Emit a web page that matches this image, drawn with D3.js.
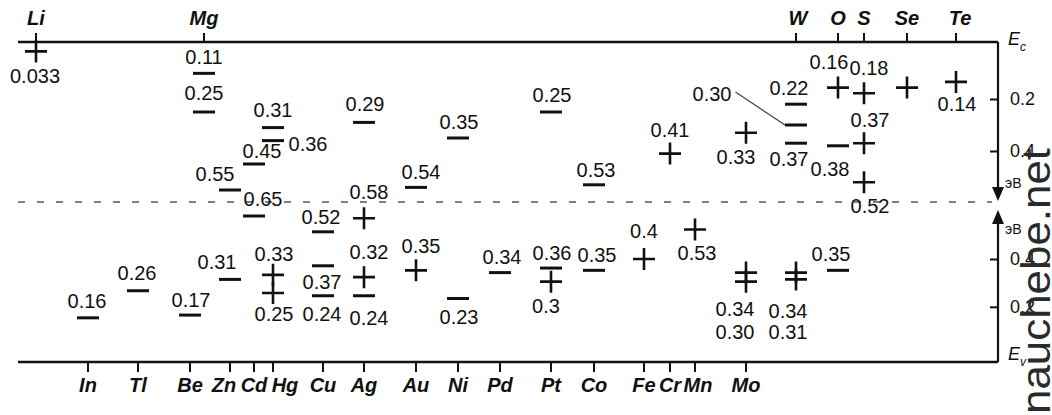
<!DOCTYPE html>
<html>
<head>
<meta charset="utf-8">
<script src="https://cdn.jsdelivr.net/npm/d3@7"></script>
<style>
  html, body { margin: 0; padding: 0; background: #fff; }
  svg { display: block; }
  text { font-family: "Liberation Sans", Arial, Helvetica, sans-serif; }
</style>
</head>
<body>
<svg id="chart" width="1052" height="415"></svg>
<script>
// ---- data -------------------------------------------------------------
// impurities named along the conduction-band edge (top) and valence-band edge (bottom)
const topElements = ["Li", "Mg", "W", "O", "S", "Se", "Te"];
const bottomElements = ["In", "Tl", "Be", "Zn", "Cd", "Hg", "Cu", "Ag", "Au", "Ni",
                        "Pd", "Pt", "Co", "Fe", "Cr", "Mn", "Mo"];

// levels counted down from Ec: [element, energy in eV as printed, "+" donor / "-" acceptor]
const levelsFromEc = [
  ["Li", "0.033", "+"],
  ["Mg", "0.11", "-"], ["Mg", "0.25", "-"],
  ["Zn", "0.55", "-"],
  ["Cd", "0.45", "-"], ["Cd", "0.65", "-"],
  ["Hg", "0.31", "-"], ["Hg", "0.36", "-"],
  ["Ag", "0.29", "-"],
  ["Au", "0.54", "-"],
  ["Ni", "0.35", "-"],
  ["Pt", "0.25", "-"],
  ["Co", "0.53", "-"],
  ["Cr", "0.41", "+"],
  ["Mo", "0.33", "+"],
  ["W", "0.22", "-"], ["W", "0.30", "-"], ["W", "0.37", "-"],
  ["O", "0.16", "+"], ["O", "0.38", "-"],
  ["S", "0.18", "+"], ["S", "0.37", "+"], ["S", "0.52", "+"],
  ["Te", "0.14", "+"]
];
// Se donor carries no printed value
const unlabelledFromEc = [["Se", 0.16, "+"]];

// levels counted up from Ev
const levelsFromEv = [
  ["In", "0.16", "-"],
  ["Tl", "0.26", "-"],
  ["Be", "0.17", "-"],
  ["Zn", "0.31", "-"],
  ["Hg", "0.33", "+"], ["Hg", "0.25", "+"],
  ["Cu", "0.52", "-"], ["Cu", "0.37", "-"], ["Cu", "0.24", "-"],
  ["Ag", "0.58", "+"], ["Ag", "0.32", "+"], ["Ag", "0.24", "-"],
  ["Au", "0.35", "+"],
  ["Ni", "0.23", "-"],
  ["Pd", "0.34", "-"],
  ["Pt", "0.36", "-"], ["Pt", "0.3", "+"],
  ["Co", "0.35", "-"],
  ["Fe", "0.4", "+"],
  ["Mn", "0.53", "+"],
  ["Mo", "0.34", "+"], ["Mo", "0.30", "+"],
  ["W", "0.34", "+"], ["W", "0.31", "+"],
  ["O", "0.35", "-"]
];

const energyTicks = [0.2, 0.4];

// ---- layout -----------------------------------------------------------
const plot = { left: 18, right: 998, ec: 42, ev: 362 };
const midY = (plot.ec + plot.ev) / 2;

const columnOrder = ["Li", "In", "Tl", "Be", "Mg", "Zn", "Cd", "Hg", "Cu", "Ag", "Au", "Ni",
                     "Pd", "Pt", "Co", "Fe", "Cr", "Mn", "Mo", "W", "O", "S", "Se", "Te"];
const columnX = [36, 88, 138, 190, 204, 230, 254, 273, 323, 364, 416, 458,
                 500, 551, 594, 644, 670, 695, 746, 796, 838, 864, 907, 956];
const x = d3.scaleOrdinal(columnOrder, columnX);

// energy scales (eV) – piecewise, following the drawn tick spacing
const yC = d3.scaleLinear().domain([0, 0.2, 0.4]).range([plot.ec, 99, 151]);
const yV = d3.scaleLinear().domain([0, 0.25, 0.55]).range([plot.ev, 293, 225]);

// where each value label sits relative to its mark: [dx, baseline dy]
const labelOffset = {
  "c Li 0.033": [-1, 32], "c Mg 0.11": [0, -9], "c Mg 0.25": [0, -12],
  "c Zn 0.55": [-15, -9], "c Cd 0.45": [8, -6], "c Cd 0.65": [9, -10],
  "c Hg 0.31": [0, -11], "c Hg 0.36": [35, 10], "c Ag 0.29": [1, -11],
  "c Au 0.54": [5, -8], "c Ni 0.35": [1, -9], "c Pt 0.25": [1, -10],
  "c Co 0.53": [2, -8], "c Cr 0.41": [0, -17], "c Mo 0.33": [-10, 31],
  "c W 0.22": [-7, -9], "c W 0.30": [-84, -24], "c W 0.37": [-7, 23],
  "c O 0.16": [-9, -19], "c O 0.38": [-8, 30], "c S 0.18": [5, -18],
  "c S 0.37": [6, -16], "c S 0.52": [6, 31], "c Te 0.14": [1, 29],
  "v In 0.16": [-1, -10], "v Tl 0.26": [-1, -11], "v Be 0.17": [1, -8],
  "v Zn 0.31": [-13, -10], "v Hg 0.33": [1, -14], "v Hg 0.25": [1, 28],
  "v Cu 0.52": [-2, -8], "v Cu 0.37": [-1, 23], "v Cu 0.24": [-1, 25],
  "v Ag 0.58": [5, -19], "v Ag 0.32": [5, -18], "v Ag 0.24": [5, 29],
  "v Au 0.35": [5, -17], "v Ni 0.23": [1, 25], "v Pd 0.34": [2, -9],
  "v Pt 0.36": [1, -8], "v Pt 0.3": [-5, 31], "v Co 0.35": [3, -8],
  "v Fe 0.4": [0, -21], "v Mn 0.53": [2, 30], "v Mo 0.34": [-11, 43],
  "v Mo 0.30": [-11, 57], "v W 0.34": [-8, 45], "v W 0.31": [-8, 60],
  "v O 0.35": [-7, -9]
};
const leaderLabels = new Set(["c W 0.30"]);
const elementLabelDx = { Zn: -6, Hg: 12, Mn: 3, Te: 4, W: 2 };

const ink = "#111";
const svg = d3.select("#chart");

// ---- band edges and gap middle ---------------------------------------
svg.append("line")
  .attr("x1", plot.left).attr("x2", 992).attr("y1", midY).attr("y2", midY)
  .attr("stroke", "#555").attr("stroke-width", 1.6).attr("stroke-dasharray", "7,12");

svg.append("line")
  .attr("x1", plot.left).attr("x2", plot.right).attr("y1", plot.ec).attr("y2", plot.ec)
  .attr("stroke", ink).attr("stroke-width", 2.6);
svg.append("line")
  .attr("x1", plot.left).attr("x2", plot.right).attr("y1", plot.ev).attr("y2", plot.ev)
  .attr("stroke", ink).attr("stroke-width", 2.6);

// element ticks and names
const topG = svg.append("g");
topG.selectAll("line").data(topElements).join("line")
  .attr("x1", d => x(d)).attr("x2", d => x(d)).attr("y1", plot.ec - 9).attr("y2", plot.ec)
  .attr("stroke", ink).attr("stroke-width", 2);
topG.selectAll("text").data(topElements).join("text")
  .attr("x", d => x(d) + (elementLabelDx[d] || 0)).attr("y", 25)
  .attr("text-anchor", "middle").attr("font-size", 20).attr("font-weight", "bold")
  .attr("font-style", "italic").attr("fill", ink).text(d => d);

const botG = svg.append("g");
botG.selectAll("line").data(bottomElements).join("line")
  .attr("x1", d => x(d)).attr("x2", d => x(d)).attr("y1", plot.ev).attr("y2", plot.ev + 10)
  .attr("stroke", ink).attr("stroke-width", 2);
botG.selectAll("text").data(bottomElements).join("text")
  .attr("x", d => x(d) + (elementLabelDx[d] || 0)).attr("y", 392)
  .attr("text-anchor", "middle").attr("font-size", 20).attr("font-weight", "bold")
  .attr("font-style", "italic").attr("fill", ink).text(d => d);

// ---- energy axis on the right ------------------------------------------
function energyAxis(scale, tipY) {
  const g = svg.append("g").attr("transform", `translate(${plot.right},0)`);
  g.call(d3.axisRight(scale).tickValues(energyTicks).tickSize(-8).tickPadding(12)
    .tickFormat(d3.format(".1f")));
  g.select(".domain").remove();
  g.selectAll(".tick line").attr("stroke", ink).attr("stroke-width", 2);
  g.selectAll(".tick text").attr("font-size", 18).attr("fill", ink)
    .attr("font-family", "Liberation Sans, Arial, sans-serif");
  const y0 = scale(0);
  const dir = Math.sign(tipY - y0);
  g.append("line").attr("x1", 0).attr("x2", 0).attr("y1", y0).attr("y2", tipY - dir * 12)
    .attr("stroke", ink).attr("stroke-width", 2.2);
  g.append("path")
    .attr("d", `M-6,${tipY - dir * 14}L6,${tipY - dir * 14}L0,${tipY}Z`)
    .attr("fill", ink);
}
energyAxis(yC, 201);
energyAxis(yV, 210);

function edgeLabel(sub, yBase) {
  const t = svg.append("text").attr("x", 1008).attr("y", yBase)
    .attr("font-size", 18).attr("font-style", "italic").attr("fill", ink);
  t.append("tspan").text("E");
  t.append("tspan").attr("dy", 6).attr("font-size", 12).text(sub);
}
edgeLabel("c", 45);
edgeLabel("v", 360);

svg.append("text").attr("x", 1005).attr("y", 188).attr("font-size", 14).attr("fill", ink).text("эВ");
svg.append("text").attr("x", 1005).attr("y", 234).attr("font-size", 14).attr("fill", ink).text("эВ");

// ---- impurity levels ---------------------------------------------------
const levels = [
  ...levelsFromEc.map(([el, v, kind]) => ({ el, text: v, value: +v, kind, edge: "c" })),
  ...unlabelledFromEc.map(([el, v, kind]) => ({ el, text: null, value: v, kind, edge: "c" })),
  ...levelsFromEv.map(([el, v, kind]) => ({ el, text: v, value: +v, kind, edge: "v" }))
];
levels.forEach(d => {
  d.x = x(d.el);
  d.y = d.edge === "c" ? yC(d.value) : yV(d.value);
  d.key = `${d.edge} ${d.el} ${d.text}`;
});

const markG = svg.append("g");
markG.selectAll("path").data(levels).join("path")
  .attr("d", d => d.kind === "+"
    ? `M${d.x - 11},${d.y}h22M${d.x},${d.y - 11}v22`
    : `M${d.x - 11},${d.y}h22`)
  .attr("stroke", ink)
  .attr("stroke-width", d => d.kind === "+" ? 2.6 : 3)
  .attr("fill", "none");

const labelled = levels.filter(d => d.text !== null);
const labelG = svg.append("g");
const labels = labelG.selectAll("text").data(labelled).join("text")
  .attr("x", d => d.x + (labelOffset[d.key] || [0, -9])[0])
  .attr("y", d => d.y + (labelOffset[d.key] || [0, -9])[1])
  .attr("text-anchor", "middle").attr("font-size", 20).attr("fill", ink)
  .text(d => d.text);

// leader line from a displaced label to its level
labels.filter(d => leaderLabels.has(d.key)).each(function (d) {
  const half = this.getComputedTextLength() / 2;
  const lx = +this.getAttribute("x") + half + 4;
  const ly = +this.getAttribute("y") - 9;
  svg.append("line").attr("x1", lx).attr("y1", ly).attr("x2", d.x - 11).attr("y2", d.y)
    .attr("stroke", "#444").attr("stroke-width", 1.2);
});

// site mark
svg.append("text")
  .attr("transform", "translate(1050,414) rotate(-90)")
  .attr("font-family", "DejaVu Sans, sans-serif").attr("font-size", 40)
  .attr("textLength", 266).attr("lengthAdjust", "spacingAndGlyphs")
  .attr("fill", "#2a2a2a").text("nauchebe.net");
</script>
</body>
</html>
